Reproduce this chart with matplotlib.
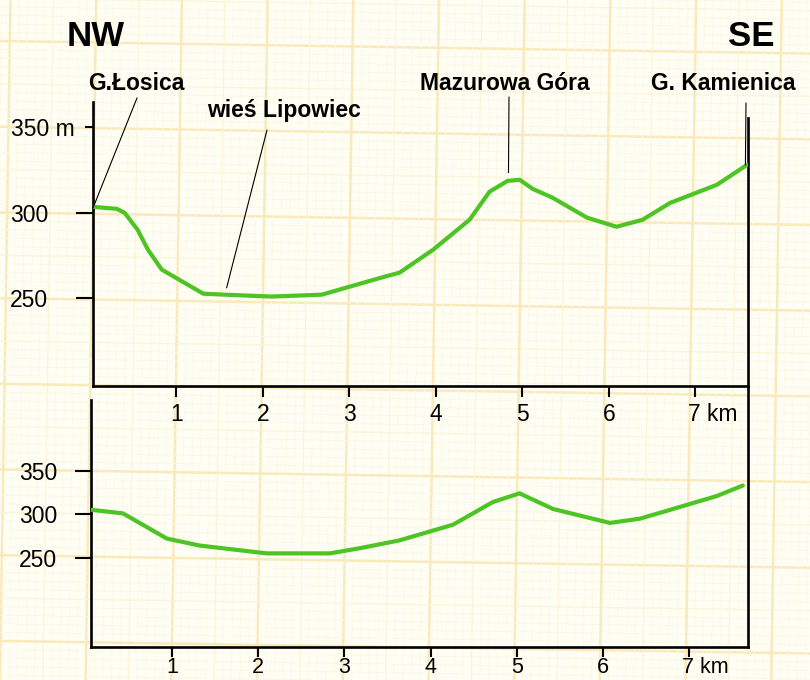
import matplotlib
matplotlib.use("Agg")
import matplotlib.pyplot as plt
import numpy as np
from matplotlib.transforms import ScaledTranslation

plt.rcParams["font.family"] = ["Liberation Sans", "DejaVu Sans"]

# profile at the larger vertical scale (distance km, height m a.s.l.)
top_km = [0.035, 0.31, 0.40, 0.55, 0.67, 0.83, 1.31, 1.56, 2.10, 2.68, 3.41, 3.58,
          3.97, 4.39, 4.62, 4.83, 4.97, 5.12, 5.35, 5.75, 6.09, 6.39, 6.71, 7.25, 7.60]
top_m = [303.5, 302.3, 300.0, 290.1, 278.4, 266.7, 252.6, 252.0, 250.9, 252.0, 262.6, 264.9,
         278.4, 295.9, 312.3, 318.7, 319.3, 314.0, 308.8, 297.1, 291.8, 295.9, 305.8, 316.4, 328.1]

# same profile at the smaller vertical scale
bottom_km = [0.07, 0.43, 0.94, 1.32, 2.10, 2.83, 3.18, 3.64, 4.26, 4.72, 5.03, 5.42,
             6.08, 6.43, 6.74, 7.32, 7.62]
bottom_m = [305, 301, 272, 264, 255, 255, 261, 270, 288, 314, 324, 306,
            290, 295, 304, 321, 333]

dist_ticks = [1, 2, 3, 4, 5, 6, 7]
dist_labels = ["1", "2", "3", "4", "5", "6", "7 km"]
top_elev_ticks = [250, 300]
top_elev_labels = ["250", "300"]
top_elev_top_tick = [350]
top_elev_top_label = ["350 m"]
bottom_elev_ticks = [250, 300, 350]
bottom_elev_labels = ["250", "300", "350"]

places = ["G.Łosica", "wieś Lipowiec", "Mazurowa Góra", "G. Kamienica"]
place_km = [0.035, 1.58, 4.84, 7.58]
place_m = [302.8, 256.0, 323.5, 328.0]

# layout (image pixels, origin top-left)
W, H = 810, 680
label_centers = [(136, 84), (284, 111), (505, 84), (723, 84)]
leader_tops = [(137, 98), (267, 130), (509, 97), (746, 103)]

GREEN = "#4cc424"
PAPER = "#fffef4"


def px_box(left, right, top, bottom):
    return [left / W, 1 - bottom / H, (right - left) / W, (bottom - top) / H]


fig = plt.figure(figsize=(W / 100, H / 100), dpi=100)
fig.patch.set_facecolor(PAPER)

# graph paper, scanned slightly askew
paper = fig.add_axes([0, 0, 1, 1], zorder=0)
paper.set_xlim(0, W)
paper.set_ylim(H, 0)
paper.axis("off")
step = 8.57
skew = 0.0155
for i in range(-20, 110):
    if i % 10 == 0:
        style = dict(color="#f9e9bb", lw=1.8)
    elif i % 5 == 0:
        style = dict(color="#fcf4d6", lw=0.9)
    else:
        style = dict(color="#fdf9e6", lw=0.6)
    x0 = 10.5 + i * step
    y0 = 41 + i * step
    paper.plot([x0, x0 - skew * H], [0, H], solid_capstyle="butt", **style)
    paper.plot([0, W], [y0, y0 + skew * W], solid_capstyle="butt", **style)

# upper profile
ax = fig.add_axes(px_box(93, 748, 102, 386), zorder=2)
ax.patch.set_alpha(0)
ax.set_xlim(0.035, 7.61)
ax.set_ylim(198.5, 364.9)
ax.plot(top_km, top_m, color=GREEN, lw=3, solid_joinstyle="round", solid_capstyle="round", zorder=3)
ax.spines["top"].set_visible(False)
for s in ("left", "right", "bottom"):
    ax.spines[s].set_linewidth(1.9)
ax.spines["right"].set_bounds(45.3, 355.8)
ax.xaxis.set_ticks_position("bottom")
ax.yaxis.set_ticks_position("left")
ax.set_xticks(dist_ticks, labels=dist_labels)
ax.set_yticks(top_elev_ticks, labels=top_elev_labels)
ax.set_yticks(top_elev_top_tick, labels=top_elev_top_label, minor=True)
ax.tick_params(axis="x", length=8, width=1.5, pad=4.3, labelsize=16.5)
ax.tick_params(axis="y", which="major", length=12.2, width=1.5, pad=20, labelsize=16.5)
ax.tick_params(axis="y", which="minor", length=5.8, width=1.5, pad=7.2, labelsize=16.5)

for name, km, m, (cx, cy), (tx, ty) in zip(places, place_km, place_m, label_centers, leader_tops):
    ax.annotate("", xy=(km, m), xytext=(tx, H - ty), textcoords="figure pixels",
                arrowprops=dict(arrowstyle="-", lw=0.8, color="black", shrinkA=0, shrinkB=0))
    fig.text(cx / W, 1 - cy / H, name, ha="center", va="center", fontsize=16.5, fontweight="bold")

fig.text(96 / W, 1 - 37 / H, "NW", ha="center", va="center", fontsize=25, fontweight="bold")
fig.text(751 / W, 1 - 37 / H, "SE", ha="center", va="center", fontsize=25, fontweight="bold")

# lower profile
bx = fig.add_axes(px_box(91, 748, 400, 647), zorder=2)
bx.patch.set_alpha(0)
bx.set_xlim(0.06, 7.68)
bx.set_ylim(147.4, 431.3)
bx.plot(bottom_km, bottom_m, color=GREEN, lw=3, solid_joinstyle="round", solid_capstyle="round", zorder=3)
bx.spines["top"].set_visible(False)
bx.spines["right"].set_visible(False)
for s in ("left", "bottom"):
    bx.spines[s].set_linewidth(1.9)
bx.xaxis.set_ticks_position("bottom")
bx.yaxis.set_ticks_position("left")
bx.set_xticks(dist_ticks, labels=dist_labels)
bx.set_yticks(bottom_elev_ticks, labels=bottom_elev_labels)
bx.tick_params(axis="x", length=7, width=1.5, pad=0.5, labelsize=15.5)
bx.tick_params(axis="y", length=11.5, width=1.5, pad=13, labelsize=16.5)

# "7 km": keep the 7 under its tick and let "km" run to the right
for axis in (ax, bx):
    last = axis.get_xticklabels()[-1]
    last.set_horizontalalignment("left")
    last.set_transform(last.get_transform() + ScaledTranslation(-7 / 100, 0, fig.dpi_scale_trans))

fig.savefig("out.png", dpi=100, facecolor=PAPER)
